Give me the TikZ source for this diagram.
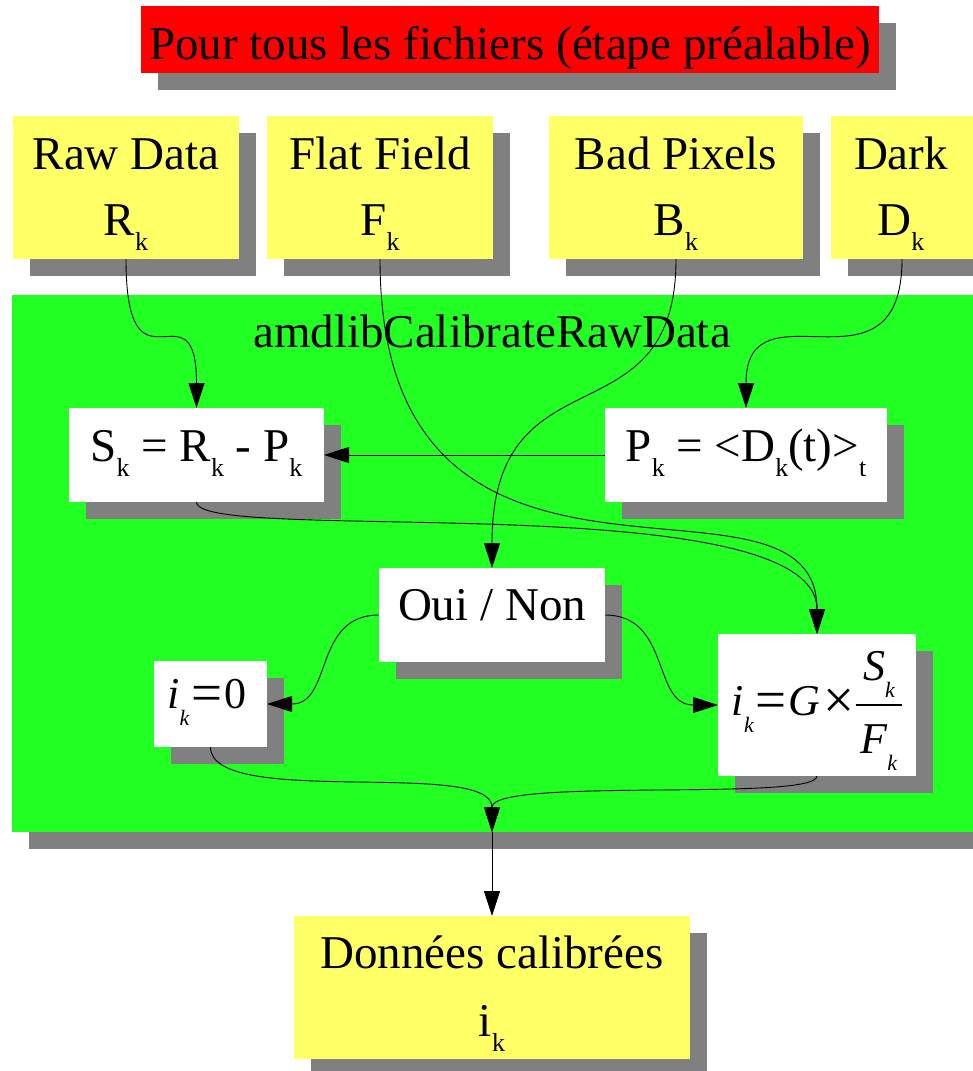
\documentclass[tikz,border=0pt]{standalone}
\usepackage{fontspec}
\setmainfont{Liberation Serif}
\usetikzlibrary{arrows.meta,shadows}
\definecolor{boxyellow}{RGB}{255,255,102}
\definecolor{boxgreen}{RGB}{34,255,34}
\definecolor{boxred}{RGB}{255,0,0}
\definecolor{shadowgray}{RGB}{128,128,128}
\newcommand\sbk[1]{\raisebox{-15.5pt}{\fontsize{26}{26}\selectfont #1}}
\newcommand\msb[1]{\raisebox{-17pt}{\fontsize{22}{22}\selectfont\itshape #1}}
\newcommand\bigop[1]{\raisebox{-3pt}{\scalebox{1.25}{\upshape #1}}}
\newcommand\gfrac[2]{\raisebox{-38pt}{\vbox{\offinterlineskip\halign{\hskip5pt\hfil##\hfil\hskip5pt\cr #1\cr\noalign{\kern7pt\hrule height 2pt\kern18pt}#2\cr}}}}
\tikzset{
  box/.style={rectangle, inner sep=0pt, outer sep=0pt, draw=none,
    drop shadow={shadow xshift=17pt, shadow yshift=-17pt, fill=shadowgray, opacity=1}},
  ybox/.style={box, fill=boxyellow},
  wbox/.style={box, fill=white},
  txt/.style={anchor=base, inner sep=0pt, outer sep=0pt, font=\fontsize{47}{56}\selectfont},
  mtxt/.style={anchor=base, inner sep=0pt, outer sep=0pt, font=\fontsize{44}{44}\selectfont},
  arr/.style={-{Triangle[length=25pt,width=16pt]}, line width=0.9pt, black}
}
\begin{document}
\begin{tikzpicture}[x=1pt,y=-1pt]
\useasboundingbox (0,0) rectangle (972,1071);
% title
\node[box, fill=boxred, minimum width=738pt, minimum height=67pt] (title) at (510,39.5) {};
\node[txt] (titleT) at (510,59) {Pour tous les fichiers (étape préalable)};
% inputs
\node[ybox, minimum width=226pt, minimum height=143pt] (raw) at (126,187.5) {};
\node[ybox, minimum width=226pt, minimum height=143pt] (flat) at (380,187.5) {};
\node[ybox, minimum width=254pt, minimum height=143pt] (bad) at (676,187.5) {};
\node[ybox, minimum width=142pt, minimum height=143pt] (dark) at (902,187.5) {};
\node[txt] (rawA) at (126,169) {Raw Data};
\node[txt] (rawB) at (126,235) {R\sbk{k}};
\node[txt] (flatA) at (380,169) {Flat Field};
\node[txt] (flatB) at (380,235) {F\sbk{k}};
\node[txt] (badA) at (676,169) {Bad Pixels};
\node[txt] (badB) at (676,235) {B\sbk{k}};
\node[txt] (darkA) at (901,169) {Dark};
\node[txt] (darkB) at (901,235) {D\sbk{k}};
% green process
\node[box, fill=boxgreen, minimum width=980pt, minimum height=537pt] (proc) at (502,563.5) {};
\node[txt] (procT) at (492,347) {amdlibCalibrateRawData};
\node[wbox, minimum width=255pt, minimum height=94pt] (s) at (196.5,455) {};
\node[txt] (sT) at (196.5,461) {S\sbk{k} = R\sbk{k} - P\sbk{k}};
\node[wbox, minimum width=282pt, minimum height=94pt] (p) at (746,455) {};
\node[txt] (pT) at (746,461) {P\sbk{k} = <D\sbk{k}(t)>\sbk{t}};
\node[wbox, minimum width=226pt, minimum height=94pt] (oui) at (492,615) {};
\node[txt] (ouiT) at (492,620) {Oui / Non};
\node[wbox, minimum width=113pt, minimum height=86pt] (i0) at (210.5,704) {};
\node[mtxt] (i0T) at (207,708) {\itshape i\msb{k}\hspace{2pt}\bigop{=}\hspace{2pt}\upshape 0};
\node[wbox, minimum width=198pt, minimum height=142pt] (g) at (817,705) {};
\node[mtxt] (gT) at (817,715) {\itshape i\msb{k}\hspace{2pt}\bigop{=}\hspace{2pt}\itshape G\hspace{3pt}\bigop{×}\hspace{1pt}\gfrac{\itshape S\msb{k}}{\itshape F\msb{k}}};
\coordinate (j) at (492,832);
% output
\node[ybox, minimum width=396pt, minimum height=143pt] (don) at (492,987.5) {};
\node[txt] (donA) at (492,968) {Données calibrées};
\node[txt] (donB) at (492,1036) {i\sbk{k}};
% connectors
\draw[arr] (raw.south) .. controls +(0,147) and +(0,-130) .. (s.north);
\draw[arr] (dark.south) .. controls +(0,147) and +(0,-130) .. (p.north);
\draw[arr] (flat.south) .. controls +(0,402) and +(0,-193) .. (g.north);
\draw[arr] (bad.south) .. controls +(0,187) and +(0,-223) .. (oui.north);
\draw[arr] (p.west) -- (s.east);
\draw[arr] (s.south) .. controls +(0,43) and +(0,-150) .. (g.north);
\draw[arr] (oui.west) .. controls +(-66,0) and +(66,0) .. (i0.east);
\draw[arr] (oui.east) .. controls +(66,0) and +(-66,0) .. (g.west);
\draw[arr] (i0.south) .. controls +(0,62) and +(0,-74) .. (j);
\draw[arr] (g.south) .. controls +(0,26) and +(0,-55) .. (j);
\draw[arr] (j) -- (don.north);
\end{tikzpicture}
\end{document}
